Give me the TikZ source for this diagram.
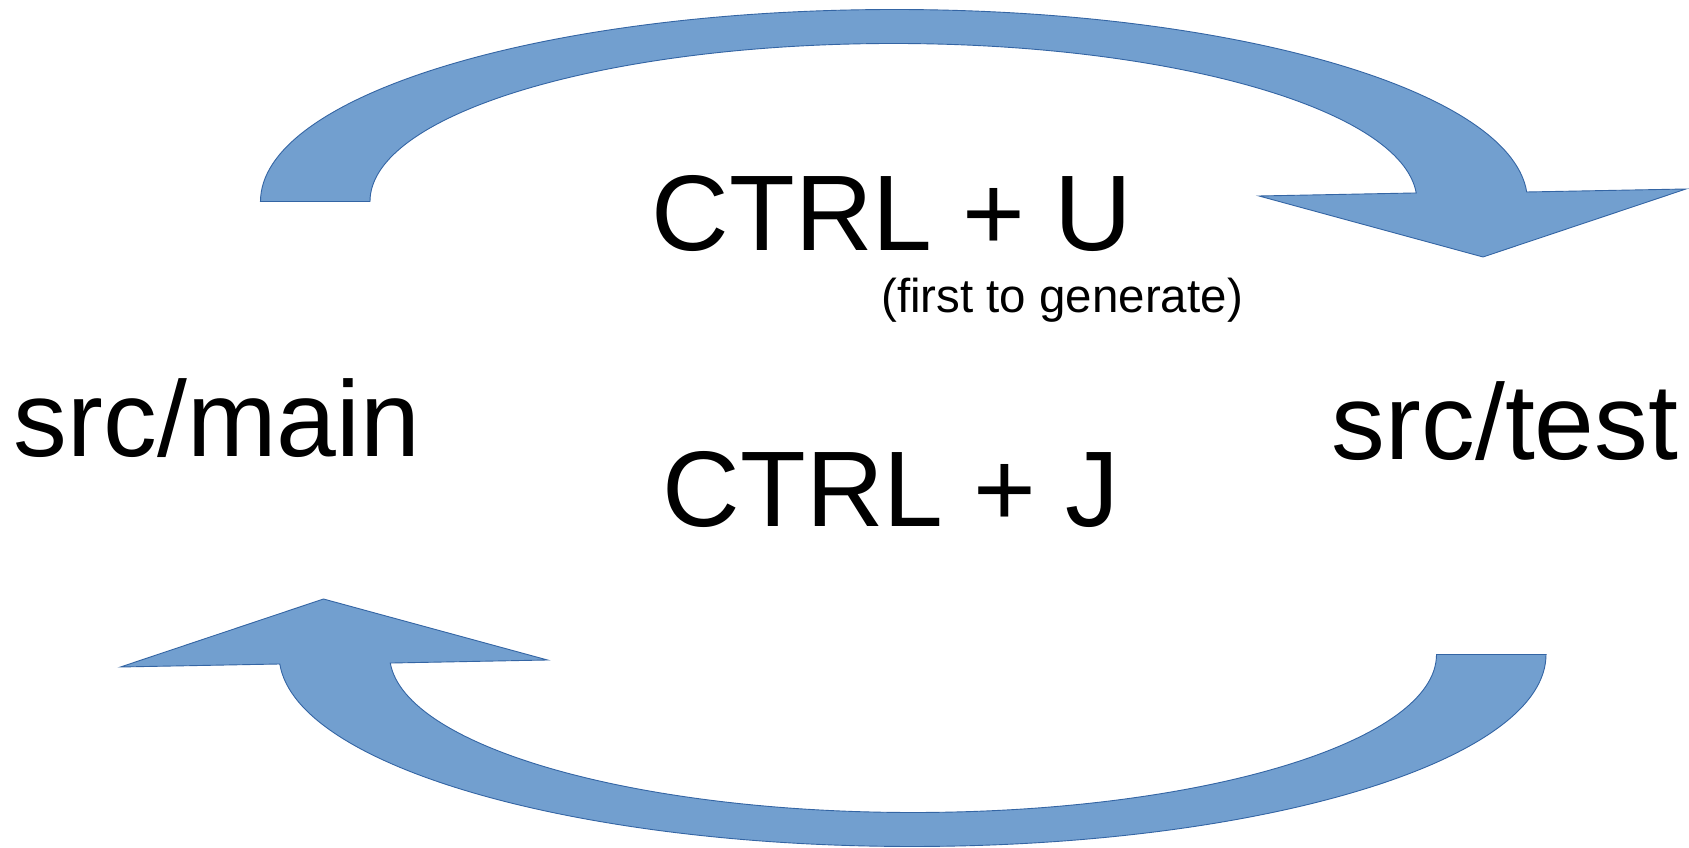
\documentclass[tikz,border=0pt]{standalone}
\usepackage{fontspec}
\setmainfont{Liberation Sans}
\definecolor{arrowfill}{HTML}{729FCF}
\definecolor{arrowline}{HTML}{3465A4}
\begin{document}
\begin{tikzpicture}[x=1pt,y=1pt,
  blockarrow/.style={fill=arrowfill,draw=arrowline,line width=0.9pt,line join=miter},
  bigtext/.style={inner sep=0pt,anchor=base west,font=\fontsize{107.5}{120}\selectfont},
  smalltext/.style={inner sep=0pt,anchor=base west,font=\fontsize{47.5}{52}\selectfont}]
\useasboundingbox[fill=white] (0,0) rectangle (1689,848);
% top arrow (src/main -> src/test)
\path[blockarrow] (260,646.5) coordinate (topouter) -- (370,646.5) coordinate (topinner)
  arc[start angle=180,end angle=3.1,x radius=523.5,y radius=158]
  -- (1259,652) -- (1483,591) coordinate (toptip) -- (1686,659) -- (1526.7,656)
  arc[start angle=2.84,end angle=180,x radius=633.5,y radius=192]
  -- cycle;
% bottom arrow (src/test -> src/main), same shape turned half round
\path[blockarrow] (1546.5,193.5) coordinate (botouter) -- (1436.5,193.5) coordinate (botinner)
  arc[start angle=360,end angle=183.1,x radius=523.5,y radius=158]
  -- (547.5,188) -- (323.5,249) coordinate (bottip) -- (120.5,181) -- (279.8,184)
  arc[start angle=182.84,end angle=360,x radius=633.5,y radius=192]
  -- cycle;
\node[bigtext] (main) at (13.7,391) {src/main};
\node[bigtext] (test) at (1331.7,388) {src/test};
\node[bigtext] (ctrlu) at (651.6,597) {CTRL + U};
\node[smalltext] (first) at (881,535) {(first to generate)};
\node[bigtext] (ctrlj) at (662.6,321) {CTRL + J};
\end{tikzpicture}
\end{document}
